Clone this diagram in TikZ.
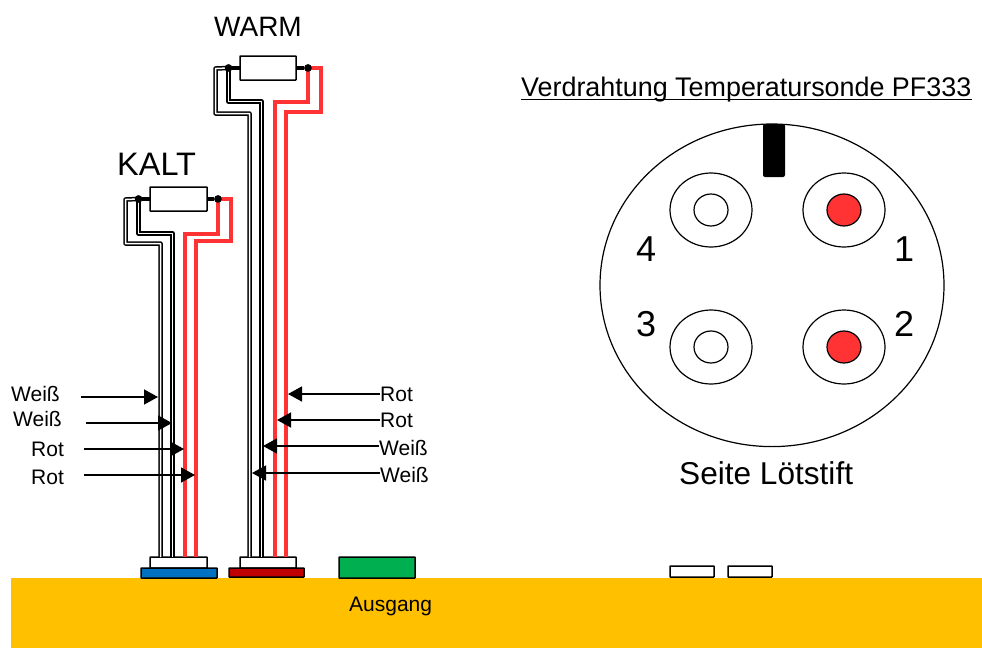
\documentclass[tikz,border=0pt]{standalone}
\usepackage{fontspec}
\setmainfont{Liberation Sans}
\usetikzlibrary{arrows.meta}
\tikzset{
  lbl/.style={inner sep=0pt,anchor=base west,text=black},
  small/.style={lbl,font=\fontsize{21}{24}\selectfont},
  big/.style={lbl,font=\fontsize{36}{40}\selectfont},
  box/.style={draw=black,line width=1.5pt,fill=white,inner sep=0pt,outer sep=0pt,anchor=north west,rounded corners=0.5pt},
  wirew/.style={draw=black,line width=1.5pt,double=white,double distance=1.5pt,line join=round},
  wirer/.style={draw=pinred,line width=4pt,line join=miter},
  lead/.style={draw=black,line width=4pt},
  dotn/.style={circle,fill=black,inner sep=0pt,minimum size=7.5pt},
  arr/.style={draw=black,line width=1.5pt,-{Triangle[length=14pt,width=15pt]}},
  plugline/.style={draw=black,line width=1.2pt},
}
\definecolor{gold}{RGB}{255,192,0}
\definecolor{pinred}{RGB}{255,51,51}
\begin{document}
\begin{tikzpicture}[x=1pt,y=-1pt]
\useasboundingbox (0,0) rectangle (982,648);
% ground
\fill[gold] (11,578) rectangle (982,648);
% resistors
\node[box,minimum width=56pt,minimum height=24pt] (warmR) at (240,56) {};
\node[box,minimum width=57pt,minimum height=24pt] (kaltR) at (150,187) {};
\node[dotn] (warmL) at (228.5,68) {};
\node[dotn] (warmRt) at (308,68) {};
\node[dotn] (kaltL) at (138.5,199) {};
\node[dotn] (kaltRt) at (218,199) {};
% connectors
\node[box,minimum width=57pt,minimum height=11pt] (kaltC) at (150,557) {};
\node[box,minimum width=56pt,minimum height=11pt] (warmC) at (240,557) {};
% wire ends
\coordinate (ka) at (160.5,557); \coordinate (kb) at (172.5,557);
\coordinate (kc) at (185,557);   \coordinate (kd) at (196,557);
\coordinate (wa) at (249.5,557); \coordinate (wb) at (261.5,557);
\coordinate (wc) at (274.5,557); \coordinate (wd) at (286,557);
% warm wires
\draw[wirew] (warmL.center) -- (215.5,68.5) -- (215.5,113.5) -- (249.5,113.5) -- (wa);
\draw[wirew] (warmL.center) -- (228.5,101.5) -- (261.5,101.5) -- (wb);
\draw[wirer] (warmRt.center) -- (308,102) -- (274.5,102) -- (wc);
\draw[wirer] (warmRt.center) -- (321,68) -- (321,112) -- (286,112) -- (wd);
% kalt wires
\draw[wirew] (kaltL.center) -- (125.5,199.5) -- (125.5,243.5) -- (160.5,243.5) -- (ka);
\draw[wirew] (kaltL.center) -- (138.5,233.5) -- (172.5,233.5) -- (kb);
\draw[wirer] (kaltRt.center) -- (218,234) -- (185,234) -- (kc);
\draw[wirer] (kaltRt.center) -- (231,199) -- (231,241) -- (196,241) -- (kd);
% leads
\draw[lead] (warmR.west |- warmL) -- (warmL);
\draw[lead] (warmR.east |- warmRt) -- (warmRt);
\draw[lead] (kaltR.west |- kaltL) -- (kaltL);
\draw[lead] (kaltR.east |- kaltRt) -- (kaltRt);
\node[dotn] at (warmL) {};
\node[dotn] at (warmRt) {};
\node[dotn] at (kaltL) {};
\node[dotn] at (kaltRt) {};
% bases
\node[box,fill={rgb,255:red,0;green,112;blue,192},minimum width=76pt,minimum height=10pt] (kaltB) at (141,568) {};
\node[box,fill={rgb,255:red,192;green,0;blue,0},minimum width=75pt,minimum height=9pt] (warmB) at (229,568) {};
\node[box,fill={rgb,255:red,0;green,176;blue,80},minimum width=76pt,minimum height=21pt] (green) at (339,557) {};
\node[box,minimum width=44pt,minimum height=11pt] (s1) at (670,566) {};
\node[box,minimum width=44pt,minimum height=11pt] (s2) at (728,566) {};
% labels
\node[lbl,font=\fontsize{28}{34}\selectfont] (warm) at (214,36) {WARM};
\node[lbl,font=\fontsize{32.5}{38}\selectfont] (kalt) at (117,175) {KALT};
\node[lbl,font=\fontsize{26.9}{32}\selectfont] (title) at (521,96) {Verdrahtung Temperatursonde PF333};
\draw[line width=1.2pt] ([yshift=-3.5pt]title.base west) -- ([yshift=-3.5pt]title.base east);
\node[small] (ausgang) at (349,611) {Ausgang};
% left arrows
\node[small] (lw1) at (11,401) {Weiß};
\node[small] (lw2) at (13,426) {Weiß};
\node[small] (lr1) at (31,456) {Rot};
\node[small] (lr2) at (31,484) {Rot};
\coordinate (as1) at (81,397);  \coordinate (ae1) at (158,397);
\coordinate (as2) at (86,423);  \coordinate (ae2) at (172,423);
\coordinate (as3) at (84,449);  \coordinate (ae3) at (184,449);
\coordinate (as4) at (84,475);  \coordinate (ae4) at (195,475);
\draw[arr] (as1) -- (ae1);
\draw[arr] (as2) -- (ae2);
\draw[arr] (as3) -- (ae3);
\draw[arr] (as4) -- (ae4);
% right arrows
\node[small] (rr1) at (380,401) {Rot};
\node[small] (rr2) at (380,427) {Rot};
\node[small] (rw1) at (379,455) {Weiß};
\node[small] (rw2) at (380,482) {Weiß};
\coordinate (bs1) at (380,394); \coordinate (be1) at (288,394);
\coordinate (bs2) at (380,420); \coordinate (be2) at (277,420);
\coordinate (bs3) at (379,446); \coordinate (be3) at (263,446);
\coordinate (bs4) at (380,473); \coordinate (be4) at (252,473);
\draw[arr] (bs1) -- (be1);
\draw[arr] (bs2) -- (be2);
\draw[arr] (bs3) -- (be3);
\draw[arr] (bs4) -- (be4);
% plug
\draw[plugline] (772,285.3) ellipse [x radius=172,y radius=161.3];
\fill[black,rounded corners=2pt] (763,124) rectangle (785,177);
\foreach \nm/\cx/\cy/\col in {a/711/210/white,b/844/210/pinred,c/711/347/white,d/844/347/pinred}{
  \draw[plugline] (\cx,\cy) ellipse [x radius=41,y radius=37];
  \draw[plugline,fill=\col] (\cx,\cy) ellipse [x radius=17,y radius=16];
}
\node[big] (n4) at (636,261) {4};
\node[big] (n1) at (894,261) {1};
\node[big] (n3) at (636,336) {3};
\node[big] (n2) at (894,336) {2};
\node[lbl,font=\fontsize{31.6}{38}\selectfont] (seite) at (679,484) {Seite Lötstift};
\end{tikzpicture}
\end{document}
